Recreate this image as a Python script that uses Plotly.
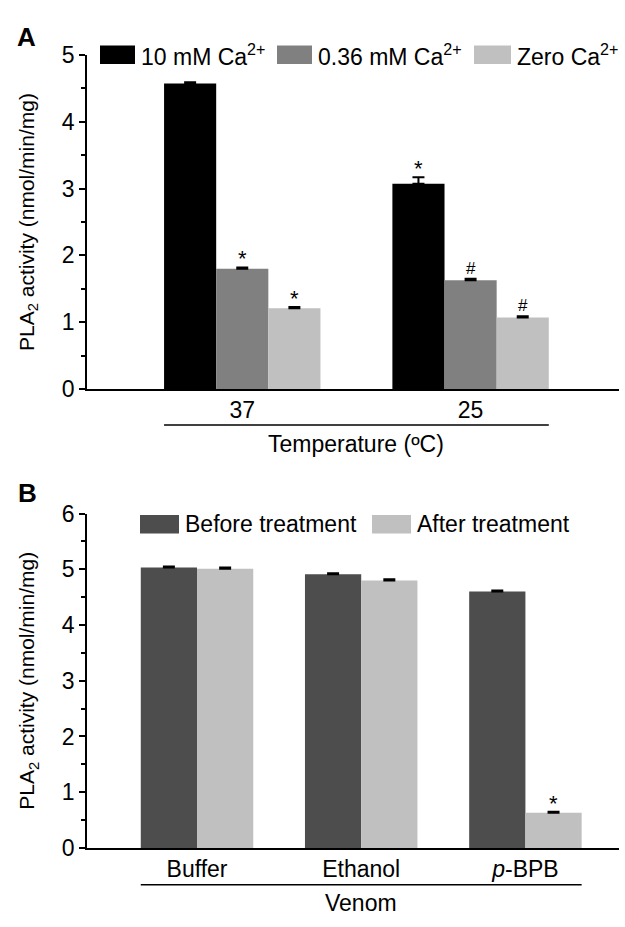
import plotly.graph_objects as go

# ---------------- data ----------------
temp_labels = ["37", "25"]
series_a_names = ["10 mM Ca<sup>2+</sup>", "0.36 mM Ca<sup>2+</sup>", "Zero Ca<sup>2+</sup>"]
ca10 = [4.57, 3.07]
ca036 = [1.80, 1.63]
ca0 = [1.21, 1.07]
ca10_err = [0.02, 0.10]
ca036_err = [0.02, 0.02]
ca0_err = [0.02, 0.02]
ca10_mark = ["", "*"]
ca036_mark = ["*", "#"]
ca0_mark = ["*", "#"]

venom_labels = ["Buffer", "Ethanol", "<i>p</i>-BPB"]
series_b_names = ["Before treatment", "After treatment"]
before = [5.03, 4.91, 4.60]
after = [5.01, 4.80, 0.63]
before_err = [0.02, 0.02, 0.02]
after_err = [0.02, 0.02, 0.02]
before_mark = ["", "", ""]
after_mark = ["", "", "*"]

# ---------------- style ----------------
FONT = "Arial, 'Liberation Sans', sans-serif"
W, H = 625, 927
colors_a = ["#000000", "#808080", "#c0c0c0"]
colors_b = ["#4d4d4d", "#c0c0c0"]
BARGAP = 0.315

def px_x(p):
    return p / W

def px_y(p):
    return 1 - p / H

dom_x = [px_x(87), px_x(619)]
dom_a = [px_y(387), px_y(43)]
dom_b = [px_y(859), px_y(515)]

fig = go.Figure()

# panel A
vals_a = [ca10, ca036, ca0]
errs_a = [ca10_err, ca036_err, ca0_err]
marks_a = [ca10_mark, ca036_mark, ca0_mark]
xa = list(range(len(temp_labels)))
for name, v, e, c in zip(series_a_names, vals_a, errs_a, colors_a):
    fig.add_trace(go.Bar(
        x=xa, y=v, name=name, marker=dict(color=c, line=dict(width=0)),
        error_y=dict(type="data", array=e, arrayminus=[0]*len(e), symmetric=False,
                     color="black", thickness=2, width=6),
        xaxis="x", yaxis="y", showlegend=False))

# panel B
vals_b = [before, after]
errs_b = [before_err, after_err]
marks_b = [before_mark, after_mark]
xb = list(range(len(venom_labels)))
for name, v, e, c in zip(series_b_names, vals_b, errs_b, colors_b):
    fig.add_trace(go.Bar(
        x=xb, y=v, name=name, marker=dict(color=c, line=dict(width=0)),
        error_y=dict(type="data", array=e, arrayminus=[0]*len(e), symmetric=False,
                     color="black", thickness=2, width=6),
        xaxis="x2", yaxis="y2", showlegend=False))

annotations = []
shapes = []

def add_marks(vals, errs, marks, xref, yref, n):
    gw = 1 - BARGAP
    bw = gw / n
    for k, (v, e, m) in enumerate(zip(vals, errs, marks)):
        off = -gw / 2 + bw * (k + 0.5)
        for i, (vi, ei, mi) in enumerate(zip(v, e, m)):
            if mi:
                annotations.append(dict(
                    x=i + off, y=vi + ei, xref=xref, yref=yref, text=mi,
                    showarrow=False, xanchor="center", yanchor="bottom",
                    yshift=(-6 if mi == "*" else -1),
                    font=dict(family=FONT, size=(22 if mi == "*" else 17), color="black")))

add_marks(vals_a, errs_a, marks_a, "x", "y", 3)
add_marks(vals_b, errs_b, marks_b, "x2", "y2", 2)

# category underline + group titles
def add_group_title(n, xref, y_line_px, y_text_px, text):
    gw = 1 - BARGAP
    shapes.append(dict(type="line", xref=xref, yref="paper",
                       x0=-gw / 2, x1=(n - 1) + gw / 2,
                       y0=px_y(y_line_px), y1=px_y(y_line_px),
                       line=dict(color="black", width=1.5)))
    annotations.append(dict(x=(n - 1) / 2, y=px_y(y_text_px), xref=xref, yref="paper",
                            text=text, showarrow=False, xanchor="center", yanchor="middle",
                            font=dict(family=FONT, size=23, color="black")))

add_group_title(len(temp_labels), "x", 424, 443, "Temperature (ºC)")
add_group_title(len(venom_labels), "x2", 897, 916, "Venom")

# manual legends
def add_legend(names, colors, boxes, y_px):
    for name, c, (bx0, bx1) in zip(names, colors, boxes):
        shapes.append(dict(type="rect", xref="paper", yref="paper",
                           x0=px_x(bx0), x1=px_x(bx1),
                           y0=px_y(y_px + 9.5), y1=px_y(y_px - 9.5),
                           fillcolor=c, line=dict(width=0)))
        annotations.append(dict(x=px_x(bx1 + 4), y=px_y(y_px), xref="paper", yref="paper",
                                text=name, showarrow=False, xanchor="left", yanchor="middle",
                                font=dict(family=FONT, size=23, color="black")))

add_legend(series_a_names, colors_a, [(100, 135), (277, 312), (474, 511)], 43)
add_legend(series_b_names, colors_b, [(140, 179), (372, 411)], 526)

# y titles and panel letters
ytitle = "PLA<sub>2</sub> activity (nmol/min/mg)"
for top, bot in [(43, 387), (515, 859)]:
    annotations.append(dict(x=px_x(28), y=px_y((top + bot) / 2), xref="paper", yref="paper",
                            text=ytitle, textangle=-90, showarrow=False,
                            xanchor="center", yanchor="middle",
                            font=dict(family=FONT, size=21, color="black")))
annotations.append(dict(x=px_x(26), y=px_y(25), xref="paper", yref="paper", text="<b>A</b>",
                        showarrow=False, xanchor="center", yanchor="middle",
                        font=dict(family=FONT, size=26, color="black")))
annotations.append(dict(x=px_x(27), y=px_y(494), xref="paper", yref="paper", text="<b>B</b>",
                        showarrow=False, xanchor="center", yanchor="middle",
                        font=dict(family=FONT, size=26, color="black")))

tickfont = dict(family=FONT, size=23, color="black")
yaxis_common = dict(showline=True, linecolor="black", linewidth=1.5, ticks="outside",
                    ticklen=6, tickwidth=1.5, tickcolor="black", showgrid=False,
                    zeroline=False, tickfont=tickfont, dtick=1,
                    minor=dict(ticks="outside", ticklen=4, tickwidth=1.5, tickcolor="black", dtick=0.5))
xaxis_common = dict(showline=True, linecolor="black", linewidth=1.5, ticks="",
                    showgrid=False, zeroline=False, tickfont=tickfont)

fig.update_layout(
    width=W, height=H, margin=dict(l=0, r=0, t=0, b=0),
    paper_bgcolor="white", plot_bgcolor="white",
    barmode="group", bargap=BARGAP, bargroupgap=0,
    xaxis=dict(domain=dom_x, anchor="y", range=[-0.68, 1.65],
               tickvals=xa, ticktext=temp_labels, **xaxis_common),
    yaxis=dict(domain=dom_a, anchor="x", range=[0, 5], **yaxis_common),
    xaxis2=dict(domain=dom_x, anchor="y2", range=[-0.67, 2.57],
                tickvals=xb, ticktext=venom_labels, **xaxis_common),
    yaxis2=dict(domain=dom_b, anchor="x2", range=[0, 6], **yaxis_common),
    annotations=annotations, shapes=shapes,
)

fig.write_html("out.html")
